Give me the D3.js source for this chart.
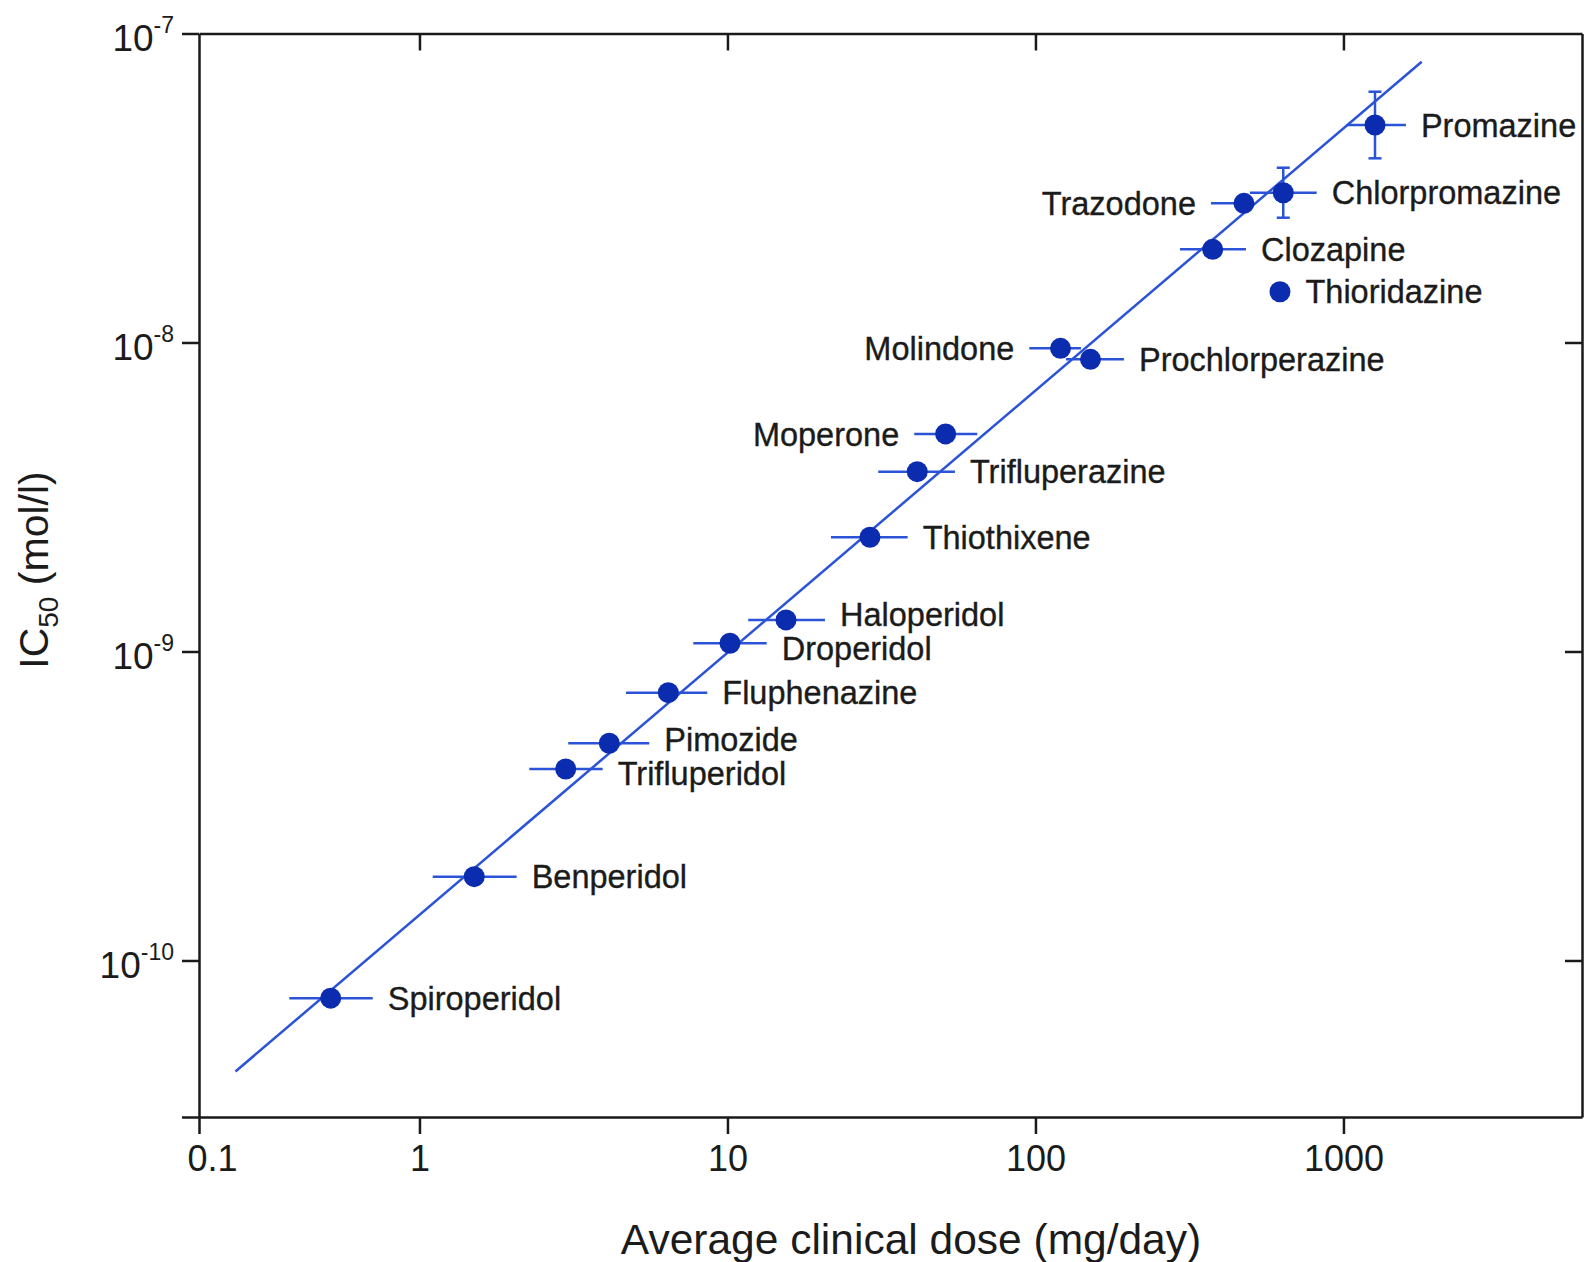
<!DOCTYPE html>
<html>
<head>
<meta charset="utf-8">
<script src="https://cdn.jsdelivr.net/npm/d3@7"></script>
<style>
  body { margin: 0; background: #fff; }
  text { font-family: "Liberation Sans", Arial, Helvetica, sans-serif; fill: #1b1b1b; }
  .axis path, .axis line { stroke: #1a1a1a; stroke-width: 2.5; }
  .drug { stroke: #1b1b1b; stroke-width: 0.35; }
</style>
</head>
<body>
<div id="chart"></div>
<script>
// values (dose in mg/day, IC50 in mol/l)
const drug_names = ["Spiroperidol", "Benperidol", "Trifluperidol", "Pimozide", "Fluphenazine",
    "Droperidol", "Haloperidol", "Thiothixene", "Trifluperazine", "Moperone", "Molindone",
    "Prochlorperazine", "Clozapine", "Thioridazine", "Trazodone", "Chlorpromazine", "Promazine"]
const dose      = [0.515, 1.506, 2.984, 4.133, 6.426, 10.19, 15.49, 29.02, 41.32, 51.09, 120.6, 150.9, 376.2, 622.1, 475.3, 637.6, 1266]
const dose_low  = [0.378, 1.104, 2.273, 3.042, 4.684, 7.745, 11.68, 21.68, 30.87, 40.41, 95.5, 125.6, 294.6, null, 371.4, 497.1, 1024]
const dose_high = [0.705, 2.068, 3.934, 5.573, 8.60, 13.41, 20.73, 38.46, 54.78, 64.72, 140.5, 193.8, 482.4, null, 508.5, 818.5, 1595]
const ic50      = [7.55e-11, 1.867e-10, 4.167e-10, 5.046e-10, 7.356e-10, 1.063e-9, 1.265e-9, 2.342e-9, 3.82e-9, 5.06e-9, 9.576e-9, 8.82e-9, 2.002e-8, 1.46e-8, 2.82e-8, 3.053e-8, 5.058e-8]
const ic50_low  = [null, null, null, null, null, null, null, null, null, null, null, null, null, null, null, 2.534e-8, 3.945e-8]
const ic50_high = [null, null, null, null, null, null, null, null, null, null, null, null, null, null, null, 3.678e-8, 6.48e-8]
const label_side = ["right", "right", "right", "right", "right", "right", "right", "right", "right", "left", "left",
    "right", "right", "right", "left", "right", "right"]

// regression line end points
const fit_dose = [0.2527, 1795]
const fit_ic50 = [4.373e-11, 8.10e-8]

const x_domain = [0.1924, 5950]
const y_domain = [3.115e-11, 1e-7]
const x_ticks = [1, 10, 100, 1000]
const x_tick_labels = ["0.1", "1", "10", "100", "1000"]
const y_ticks = [1e-7, 1e-8, 1e-9, 1e-10]
const y_tick_exp = ["-7", "-8", "-9", "-10"]

const blue_line = "#2b53d8"
const blue_dot = "#0c2cb0"

const W = 1585, H = 1262
const margin = {top: 33.5, right: 3, bottom: 145, left: 199}
const width = W - margin.left - margin.right,
    height = H - margin.top - margin.bottom
const tick_len = 17

const svg_root = d3.select("#chart")
    .append("svg")
    .attr("width", W)
    .attr("height", H)
svg_root.append("rect").attr("width", W).attr("height", H).attr("fill", "#fff")

const svg = svg_root.append("g")
    .attr("transform", "translate(" + margin.left + "," + margin.top + ")")

const x = d3.scaleLog().domain(x_domain).range([0, width])
const y = d3.scaleLog().domain(y_domain).range([height, 0])

// bottom axis, the origin tick carries the "0.1" label
svg.append("g")
    .attr("class", "axis")
    .attr("transform", "translate(0," + height + ")")
    .call(d3.axisBottom(x)
        .tickValues([x_domain[0]].concat(x_ticks))
        .tickFormat((d, i) => x_tick_labels[i])
        .tickSizeInner(tick_len)
        .tickSizeOuter(0)
        .tickPadding(11))
    .selectAll("text")
    .style("font-size", "36px")
    .attr("dx", (d, i) => i === 0 ? 13 : 0)

// top axis, inner ticks only
svg.append("g")
    .attr("class", "axis")
    .call(d3.axisTop(x)
        .tickValues(x_ticks)
        .tickFormat("")
        .tickSizeInner(-tick_len)
        .tickSizeOuter(0))

// left axis, plus an unlabeled tick at the bottom corner
const y_left = svg.append("g")
    .attr("class", "axis")
    .call(d3.axisLeft(y)
        .tickValues(y_ticks.concat([y_domain[0]]))
        .tickFormat("")
        .tickSizeInner(tick_len)
        .tickSizeOuter(0))

y_left.selectAll(".tick")
    .filter((d, i) => i < y_ticks.length)
    .append("text")
    .attr("x", -tick_len - 8)
    .attr("y", 17)
    .attr("text-anchor", "end")
    .style("font-size", "37px")
    .each(function (d, i) {
        const t = d3.select(this)
        t.append("tspan").text("10")
        t.append("tspan")
            .attr("dy", -18)
            .style("font-size", "23px")
            .text(y_tick_exp[i])
    })

// right axis, inner ticks only
svg.append("g")
    .attr("class", "axis")
    .attr("transform", "translate(" + width + ",0)")
    .call(d3.axisRight(y)
        .tickValues(y_ticks.slice(1))
        .tickFormat("")
        .tickSizeInner(-tick_len)
        .tickSizeOuter(0))

// regression line
svg.append("path")
    .datum(d3.zip(fit_dose, fit_ic50))
    .attr("fill", "none")
    .attr("stroke", blue_line)
    .attr("stroke-width", 2.5)
    .attr("d", d3.line()
        .x(d => x(d[0]))
        .y(d => y(d[1])))

const points = drug_names.map((name, i) => ({
    name: name,
    dose: dose[i], lo: dose_low[i], hi: dose_high[i],
    ic50: ic50[i], ylo: ic50_low[i], yhi: ic50_high[i],
    side: label_side[i]
}))

// horizontal error bars
svg.selectAll(".xerr")
    .data(points.filter(d => d.lo !== null))
    .enter()
    .append("line")
    .attr("class", "xerr")
    .attr("x1", d => x(d.lo))
    .attr("x2", d => x(d.hi))
    .attr("y1", d => y(d.ic50))
    .attr("y2", d => y(d.ic50))
    .attr("stroke", blue_line)
    .attr("stroke-width", 2.5)

// vertical error bars with caps
const yerr = svg.selectAll(".yerr")
    .data(points.filter(d => d.ylo !== null))
    .enter()
    .append("g")
    .attr("class", "yerr")
    .attr("stroke", blue_line)
    .attr("stroke-width", 2.5)
yerr.append("line")
    .attr("x1", d => x(d.dose)).attr("x2", d => x(d.dose))
    .attr("y1", d => y(d.ylo)).attr("y2", d => y(d.yhi))
yerr.append("line")
    .attr("x1", d => x(d.dose) - 6.5).attr("x2", d => x(d.dose) + 6.5)
    .attr("y1", d => y(d.ylo)).attr("y2", d => y(d.ylo))
yerr.append("line")
    .attr("x1", d => x(d.dose) - 6.5).attr("x2", d => x(d.dose) + 6.5)
    .attr("y1", d => y(d.yhi)).attr("y2", d => y(d.yhi))

const dot_r = 10.5
svg.selectAll(".dot")
    .data(points)
    .enter()
    .append("circle")
    .attr("class", "dot")
    .attr("cx", d => x(d.dose))
    .attr("cy", d => y(d.ic50))
    .attr("r", dot_r)
    .attr("fill", blue_dot)

// drug names, placed just past the end of the error bar
const labels = svg.selectAll(".drug")
    .data(points)
    .enter()
    .append("text")
    .attr("class", "drug")
    .attr("x", d => {
        if (d.side === "left") return (d.lo !== null ? x(d.lo) : x(d.dose) - dot_r) - 15
        return (d.hi !== null ? x(d.hi) : x(d.dose) + dot_r) + 15
    })
    .attr("y", d => y(d.ic50))
    .attr("dy", "0.36em")
    .attr("text-anchor", d => d.side === "left" ? "end" : "start")
    .style("font-size", "32.5px")
    .text(d => d.name)

// push apart labels that sit on top of each other
const label_gap = 34
const nodes = labels.nodes()
const boxes = nodes.map(n => n.getBBox())
const ly = points.map(d => y(d.ic50))
for (let i = 0; i < nodes.length; i++) {
    for (let k = i + 1; k < nodes.length; k++) {
        const a = boxes[i], b = boxes[k]
        const x_overlap = a.x < b.x + b.width && b.x < a.x + a.width
        const gap = Math.abs(ly[i] - ly[k])
        if (x_overlap && gap < label_gap) {
            const push = (label_gap - gap) / 2
            const up = ly[i] < ly[k] ? i : k, down = up === i ? k : i
            ly[up] -= push
            ly[down] += push
        }
    }
}
labels.attr("y", (d, i) => ly[i])

// axis titles
svg_root.append("text")
    .attr("x", 911)
    .attr("y", 1254)
    .attr("text-anchor", "middle")
    .style("font-size", "42.5px")
    .text("Average clinical dose (mg/day)")

const y_title = svg_root.append("text")
    .attr("transform", "translate(48,570) rotate(-90)")
    .attr("text-anchor", "middle")
    .style("font-size", "41px")
y_title.append("tspan").text("IC")
y_title.append("tspan").attr("dy", 10).style("font-size", "28px").text("50")
y_title.append("tspan").attr("dy", -10).text(" (mol/l)")
</script>
</body>
</html>
